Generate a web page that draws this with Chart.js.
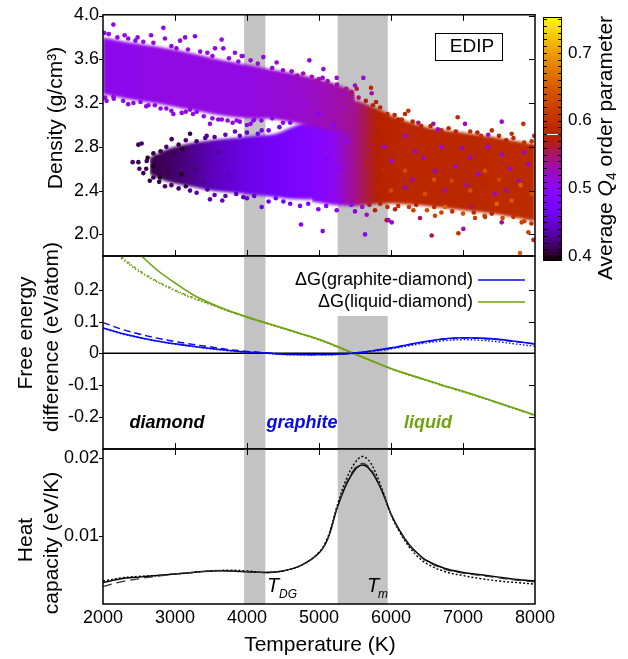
<!DOCTYPE html>
<html>
<head>
<meta charset="utf-8">
<script src="https://cdn.jsdelivr.net/npm/chart.js@4.4.1/dist/chart.umd.min.js"></script>
<style>
  html, body { margin: 0; padding: 0; background: #fff; }
  #wrap { position: relative; width: 628px; height: 659px; }
  #wrap canvas { position: absolute; left: 0; top: 0; }
</style>
</head>
<body>
<div id="wrap">
  <canvas id="cTop" width="628" height="659"></canvas>
  <canvas id="cMid" width="628" height="659"></canvas>
  <canvas id="cBot" width="628" height="659"></canvas>
</div>
<script>
// ---- axes / ticks ----
const tempTicks = [2000, 3000, 4000, 5000, 6000, 7000, 8000];
const densTicks = [2.0, 2.4, 2.8, 3.2, 3.6, 4.0];
const dgTicks = [-0.2, -0.1, 0, 0.1, 0.2];
const cpTicks = [0.01, 0.02];
const q4Ticks = [0.4, 0.5, 0.6, 0.7];
const q4Range = [0.393, 0.753];
const shadeBands = [[3960, 4255], [5260, 5955]];

// ---- density scatter: [T, density, Q4] ----
const diamondPts = [
  [2144,3.917,.51],[2838,3.887,.51],[2020,3.84,.50],[2667,3.82,.51],[2861,3.79,.51],[3070,3.77,.51],
  [3140,3.80,.51],[3278,3.81,.50],[3648,3.78,.51],[3556,3.70,.51],[3671,3.70,.50],[3833,3.66,.51],
  [3940,3.63,.51],[2300,3.82,.51],[2480,3.80,.51],[2144,3.26,.51],[2422,3.20,.51],[2630,3.18,.51],
  [2977,3.10,.50],[3093,3.11,.51],[3301,3.12,.50],[3486,3.01,.51],[3731,3.04,.51],[3856,3.04,.50],
  [3209,3.14,.51],[2050,3.22,.50],[2800,3.15,.51],[3600,3.05,.51],[3926,3.63,.51],[4227,3.62,.51],
  [4412,3.57,.52],[4866,3.59,.52],[5061,3.51,.52],[5051,3.43,.51],[5246,3.43,.52],[5616,3.43,.52],
  [5500,3.36,.52],[5732,3.29,.53],[4100,3.05,.51],[4300,3.10,.51],[4000,3.00,.50],[4700,3.45,.53],
  [4950,3.40,.53],[5150,3.35,.54],
  [2080,3.83,.51],[2200,3.80,.51],[2350,3.79,.51],[2450,3.77,.50],[2560,3.76,.51],[2700,3.75,.51],
  [2950,3.72,.51],[3020,3.70,.51],[3180,3.69,.51],[3350,3.67,.51],[3450,3.66,.51],[3520,3.63,.51],
  [3750,3.61,.51],[3880,3.58,.51],[4050,3.59,.52],[4150,3.56,.52],[4350,3.52,.52],[4500,3.50,.52],
  [4620,3.49,.52],[4780,3.47,.53],[4900,3.44,.53],[5000,3.42,.53],[5120,3.40,.53],[5250,3.37,.53],
  [5380,3.33,.54],[5450,3.30,.55],
  [2030,3.25,.51],[2150,3.24,.51],[2280,3.22,.51],[2350,3.19,.51],[2520,3.21,.51],[2600,3.17,.51],
  [2720,3.18,.51],[2880,3.15,.51],[2950,3.13,.51],[3150,3.12,.51],[3250,3.10,.51],[3400,3.08,.51],
  [3520,3.06,.51],[3650,3.05,.51],[3800,3.02,.51],[3900,3.03,.51],[4050,3.01,.51],[4200,3.04,.51],
  [4350,3.06,.51],[4500,3.02,.51],[4600,3.30,.52],[4800,3.20,.50],[5350,3.15,.52]
];
const graphitePts = [
  [2491,2.82,.41],[2537,2.83,.42],[2412,2.66,.42],[2491,2.66,.41],[2505,2.60,.42],[2607,2.67,.41],
  [2745,2.70,.41],[2792,2.52,.40],[2861,2.44,.42],[2954,2.87,.42],[3209,2.92,.41],[3209,2.40,.43],
  [3486,2.32,.44],[3657,2.31,.44],[3440,2.90,.43],[3833,2.94,.45],[3949,2.34,.44],[3093,2.55,.40],
  [2700,2.62,.40],[2900,2.58,.41],[3000,2.75,.41],[3300,2.60,.42],[3400,2.48,.43],[3600,2.75,.43],
  [3750,2.55,.44],[4088,3.04,.48],[4204,2.95,.46],[4204,2.25,.46],[4505,2.30,.47],[4736,2.26,.48],
  [4991,2.23,.49],[4750,2.09,.48],[5051,2.03,.49],[3100,2.78,.40],[2650,2.49,.41],
  [2700,2.74,.41],[2800,2.76,.41],[2880,2.80,.42],[3050,2.82,.41],[3150,2.86,.42],[3300,2.85,.42],
  [3420,2.88,.43],[3550,2.89,.43],[3700,2.91,.44],[3900,2.90,.45],[4000,2.93,.45],[4150,2.92,.46],
  [4300,2.95,.47],[4450,2.98,.47],[4600,3.02,.48],
  [2700,2.52,.41],[2780,2.48,.41],[2950,2.45,.42],[3050,2.42,.42],[3150,2.44,.41],[3300,2.38,.43],
  [3450,2.41,.43],[3550,2.36,.44],[3700,2.35,.44],[3850,2.37,.44],[4000,2.33,.45],[4100,2.35,.45],
  [4300,2.30,.46],[4400,2.33,.47],[4600,2.28,.47],[4850,2.28,.48],[5100,2.26,.49],
  [2600,2.60,.41],[2620,2.70,.40],[2560,2.56,.41],[5000,3.10,.49],[5200,3.00,.49],[4900,2.90,.48],
  [5100,2.70,.48],[5300,2.60,.49],[5400,2.85,.50]
];
const liquidPts = [
  [5246,2.22,.50],[5500,2.21,.50],[5662,2.18,.52],[5778,2.22,.57],[5940,2.13,.57],[5639,2.00,.50],
  [5722,3.34,.58],[5792,3.21,.57],[5524,3.33,.56],[5755,2.86,.58],[5848,3.01,.58],[5894,2.59,.59],
  [5662,2.64,.57],[5801,2.43,.58],[6241,3.13,.60],[6195,3.10,.58],[6926,3.07,.59],[6380,3.02,.55],
  [6588,3.01,.53],[7028,3.01,.53],[7538,3.03,.52],[7838,3.01,.60],[7676,2.92,.60],[7954,2.85,.60],
  [5963,2.13,.53],[6010,2.11,.51],[6565,1.99,.56],[6936,2.01,.60],[7005,2.05,.53],[6311,2.22,.62],
  [6403,2.15,.55],[6611,2.17,.62],[7306,2.16,.57],[7538,2.11,.53],[7815,2.11,.62],[7908,2.02,.62],
  [7977,1.95,.60],[7792,1.83,.65],[6056,2.23,.57],[6750,2.25,.66],[7167,2.15,.62],[7468,2.28,.66],
  [7120,2.25,.55],[6010,2.67,.51],[6334,2.76,.52],[6611,2.58,.52],[6982,2.79,.53],[7213,2.55,.52],
  [7538,2.73,.52],[7769,2.49,.53],[7908,2.64,.52],[6750,2.40,.53],[6195,2.43,.53],[7445,2.37,.52],
  [6473,2.37,.64],[6843,2.49,.63],[7306,2.58,.64],[7676,2.31,.65],[7954,2.37,.64],[6195,2.58,.63],
  [6700,2.95,.59],[7200,2.93,.58],[7400,2.95,.60],[6100,3.05,.58],[7990,2.90,.59],
  [5350,3.28,.52],[5550,3.25,.55],[5650,3.22,.57],[5750,3.18,.58],[5850,3.16,.58],[5950,3.10,.59],
  [6050,3.09,.58],[6150,3.05,.59],[6300,3.03,.58],[6420,2.99,.59],[6550,2.99,.58],[6650,2.96,.52],
  [6800,2.97,.59],[6900,2.94,.58],[7100,2.94,.59],[7250,2.90,.60],[7350,2.91,.52],[7500,2.90,.59],
  [7600,2.86,.58],[7700,2.88,.59],[7850,2.84,.60],[7950,2.80,.58],
  [5300,2.30,.50],[5450,2.27,.50],[5600,2.25,.51],[5700,2.27,.56],[5850,2.28,.58],[5950,2.25,.59],
  [6100,2.26,.60],[6250,2.25,.62],[6350,2.27,.58],[6500,2.22,.63],[6600,2.25,.59],[6700,2.20,.62],
  [6850,2.21,.60],[7000,2.19,.64],[7150,2.20,.59],[7300,2.17,.62],[7400,2.19,.58],[7550,2.15,.63],
  [7700,2.16,.60],[7850,2.12,.62],[7950,2.10,.60],
  [5900,2.80,.52],[6200,2.90,.52],[6450,2.70,.52],[6700,2.80,.51],[6900,2.62,.52],[7100,2.70,.52],
  [7350,2.80,.51],[7650,2.60,.52],[7850,2.75,.52],[6300,2.50,.53],[7050,2.45,.53],[7600,2.40,.53],
  [6000,2.40,.63],[6600,2.50,.64],[7100,2.40,.64],[7500,2.50,.63],[7800,2.45,.65]
];

// dense cores of the three clouds (upper / lower edge, mean Q4)
const diaT  = [2000, 2400, 2800, 3200, 3600, 4000, 4400, 4800, 5200, 5500];
const diaHi = [3.80, 3.75, 3.71, 3.66, 3.60, 3.55, 3.50, 3.45, 3.38, 3.30];
const diaLo = [3.28, 3.23, 3.19, 3.14, 3.09, 3.06, 3.05, 3.00, 2.95, 2.95];
const diaQ  = [0.505, 0.505, 0.51, 0.51, 0.51, 0.51, 0.515, 0.52, 0.53, 0.54];
const graT  = [2650, 2900, 3200, 3500, 3800, 4100, 4400, 4700, 5000];
const graHi = [2.70, 2.78, 2.83, 2.86, 2.88, 2.90, 2.92, 3.00, 3.05];
const graLo = [2.55, 2.48, 2.44, 2.40, 2.38, 2.36, 2.34, 2.32, 2.32];
const graQ  = [0.41, 0.415, 0.425, 0.44, 0.45, 0.46, 0.47, 0.48, 0.49];
const liqT  = [4900, 5200, 5500, 5800, 6100, 6500, 7000, 7500, 8000];
const liqHi = [3.20, 3.22, 3.22, 3.15, 3.06, 2.98, 2.93, 2.88, 2.82];
const liqLo = [2.30, 2.27, 2.26, 2.28, 2.28, 2.26, 2.22, 2.18, 2.12];
const liqQ  = [0.49, 0.50, 0.54, 0.575, 0.585, 0.585, 0.585, 0.59, 0.59];

// ---- free energy differences (eV/atom) ----
const tMid = [2000,2250,2500,2750,3000,3250,3500,3750,4000,4250,4500,4750,5000,5250,5500,5750,6000,6250,6500,6750,7000,7250,7500,7750,8000];
const dgGraSolid = [.080,.063,.050,.039,.030,.022,.015,.009,.004,.001,-.003,-.004,-.004,-.003,.001,.008,.017,.028,.038,.046,.049,.048,.044,.037,.030];
const dgGraDash  = [.097,.077,.061,.048,.037,.028,.020,.012,.006,.002,-.002,-.004,-.004,-.003,.001,.008,.016,.027,.037,.045,.048,.047,.043,.036,.029];
const dgGraDot   = [.079,.062,.049,.038,.029,.021,.014,.008,.003,0,-.004,-.005,-.005,-.004,0,.006,.014,.024,.033,.040,.043,.041,.036,.029,.022];
const dgLiqSolid = [null,null,.315,.263,.222,.185,.157,.134,.115,.097,.080,.062,.044,.022,-.002,-.025,-.048,-.067,-.085,-.103,-.120,-.138,-.157,-.176,-.195];
const dgLiqDash  = [null,.305,.262,.228,.200,.176,.155,.133,.114,.096,.079,.061,.043,.021,-.003,-.026,-.049,-.068,-.086,-.104,-.121,-.139,-.158,-.177,-.196];
const dgLiqDot   = [null,.300,.258,.225,.197,.173,.153,.132,.113,.095,.078,.060,.042,.020,-.004,-.027,-.050,-.069,-.087,-.105,-.122,-.140,-.159,-.178,-.197];

// ---- heat capacity (eV/K) ----
const tCp = [2000,2250,2500,2750,3000,3250,3500,3750,4000,4250,4500,4750,5000,5125,5250,5375,5500,5600,5700,5800,5900,6000,6125,6250,6375,6500,6750,7000,7250,7500,7750,8000];
const cpSolid = [.0040,.0045,.0047,.0049,.0051,.0053,.0055,.0055,.0054,.0053,.0055,.0062,.0078,.0097,.0135,.0165,.0185,.0191,.0186,.0172,.0152,.0128,.0106,.0089,.0077,.0068,.0058,.0053,.0050,.0047,.0044,.0042];
const cpDot   = [.0042,.0046,.0048,.0049,.0051,.0053,.0055,.0056,.0055,.0053,.0055,.0062,.0079,.0099,.0138,.0172,.0194,.0202,.0196,.0178,.0154,.0127,.0104,.0086,.0073,.0064,.0054,.0049,.0045,.0042,.0040,.0038];
const cpDash  = [.0035,.0041,.0045,.0048,.0051,.0053,.0055,.0055,.0054,.0053,.0055,.0062,.0078,.0097,.0136,.0167,.0187,.0193,.0188,.0173,.0152,.0128,.0105,.0088,.0076,.0067,.0057,.0052,.0049,.0046,.0043,.0041];

const FONT = "'Liberation Sans', Arial, Helvetica, sans-serif";
const BLUE = '#0808f0';
const GREEN = '#6fa20e';

// gnuplot-like palette (black - purple - red - yellow)
function q4Color(q) {
  const x = Math.min(1, Math.max(0, (q - q4Range[0]) / (q4Range[1] - q4Range[0])));
  const r = Math.round(255 * Math.sqrt(x));
  const g = Math.round(255 * x * x * x);
  const b = Math.round(255 * Math.max(0, Math.sin(2 * Math.PI * x)));
  return `rgb(${r},${g},${b})`;
}

function hGradient(chart, ts, qs) {
  const { ctx, chartArea, scales } = chart;
  if (!chartArea) return q4Color(qs[0]);
  const x0 = scales.x.getPixelForValue(ts[0]);
  const x1 = scales.x.getPixelForValue(ts[ts.length - 1]);
  const g = ctx.createLinearGradient(x0, 0, x1, 0);
  ts.forEach((t, i) => g.addColorStop((t - ts[0]) / (ts[ts.length - 1] - ts[0]), q4Color(qs[i])));
  return g;
}

const xy = (xs, ys) => xs.map((x, i) => ({ x, y: ys[i] }));

function vText(ctx, text, x, y, font) {
  ctx.save();
  ctx.translate(x, y);
  ctx.rotate(-Math.PI / 2);
  ctx.font = font;
  ctx.textAlign = 'center';
  ctx.textBaseline = 'middle';
  ctx.fillText(text, 0, 0);
  ctx.restore();
}

// shading, frame and inward ticks
const framePlugin = {
  id: 'frame',
  beforeDatasetsDraw(chart, args, opts) {
    const { ctx, chartArea: a, scales: { x, y } } = chart;
    ctx.save();
    ctx.fillStyle = '#c3c3c3';
    shadeBands.forEach(([t0, t1]) => {
      const x0 = x.getPixelForValue(t0), x1 = x.getPixelForValue(t1);
      ctx.fillRect(x0, a.top, x1 - x0, a.bottom - a.top);
    });
    if (opts.zeroLine) {
      const y0 = y.getPixelForValue(0);
      ctx.strokeStyle = '#000';
      ctx.lineWidth = 1.5;
      ctx.beginPath(); ctx.moveTo(a.left, y0); ctx.lineTo(a.right, y0); ctx.stroke();
    }
    ctx.restore();
  },
  afterDraw(chart, args, opts) {
    const { ctx, chartArea: a, scales: { x, y } } = chart;
    ctx.save();
    ctx.strokeStyle = '#000';
    ctx.lineWidth = 1.5;
    ctx.strokeRect(a.left, a.top, a.right - a.left, a.bottom - a.top);
    ctx.lineWidth = 1;
    ctx.beginPath();
    tempTicks.slice(1, -1).forEach(t => {
      const px = Math.round(x.getPixelForValue(t)) + 0.5;
      if (opts.xTop) { ctx.moveTo(px, a.top); ctx.lineTo(px, a.top + 6); }
      if (opts.xBottom) { ctx.moveTo(px, a.bottom); ctx.lineTo(px, a.bottom - 6); }
    });
    y.ticks.forEach(tk => {
      const py = Math.round(y.getPixelForValue(tk.value)) + 0.5;
      ctx.moveTo(a.left - 4, py); ctx.lineTo(a.left, py);
      if (opts.yRight) { ctx.moveTo(a.right, py); ctx.lineTo(a.right - 6, py); }
    });
    ctx.stroke();
    ctx.restore();
  }
};

function yScale(min, max, ticks, fmt) {
  return {
    type: 'linear', min, max,
    afterFit(s) { s.width = 103; },
    afterBuildTicks(s) { s.ticks = ticks.map(v => ({ value: v })); },
    grid: { display: false, drawTicks: false },
    border: { display: false },
    ticks: { padding: 4, color: '#000', font: { family: FONT, size: 18 }, callback: fmt, autoSkip: false }
  };
}
const hiddenX = { type: 'linear', min: 2000, max: 8000, display: false };

// ---------------- top panel: density ----------------
function pointSet(pts, order) {
  return {
    data: pts.map(p => ({ x: p[0], y: p[1] })),
    showLine: false, pointRadius: 2.3, pointBorderWidth: 0, order,
    pointBackgroundColor: pts.map(p => q4Color(p[2]))
  };
}
function band(ts, hi, lo, qs, idx, order) {
  return [
    { data: xy(ts, hi), borderWidth: 0, borderColor: 'rgba(0,0,0,0)', pointRadius: 0, tension: 0.3, fill: false, order },
    { data: xy(ts, lo), borderWidth: 0, borderColor: 'rgba(0,0,0,0)', pointRadius: 0, tension: 0.3, fill: idx, order,
      backgroundColor: c => hGradient(c.chart, ts, qs) }
  ];
}

const topPlugin = {
  id: 'topDeco',
  // soften the cloud cores; the dots are drawn sharp
  beforeDatasetsDraw(chart) { chart.ctx.filter = 'blur(1.6px)'; },
  beforeDatasetDraw(chart, args) {
    if (args.meta.dataset === undefined || chart.data.datasets[args.index].showLine === false) chart.ctx.filter = 'none';
  },
  afterDatasetsDraw(chart) { chart.ctx.filter = 'none'; },
  afterDraw(chart) {
    const { ctx } = chart;
    ctx.save();
    ctx.fillStyle = '#000';
    vText(ctx, 'Density (g/cm\u00b3)', 56, 118, `21px ${FONT}`);
    // EDIP box
    ctx.fillStyle = '#fff';
    ctx.fillRect(435, 33, 67, 27);
    ctx.strokeStyle = '#000'; ctx.lineWidth = 1;
    ctx.strokeRect(435.5, 33.5, 67, 27);
    ctx.fillStyle = '#000';
    ctx.font = `19px ${FONT}`; ctx.textAlign = 'center'; ctx.textBaseline = 'middle';
    ctx.fillText('EDIP', 472, 47);
    // colour bar
    const cx0 = 543, cx1 = 562, cy0 = 17, cy1 = 261;
    const qy = q => cy1 - (q - q4Range[0]) / (q4Range[1] - q4Range[0]) * (cy1 - cy0);
    const g = ctx.createLinearGradient(0, cy1, 0, cy0);
    for (let i = 0; i <= 40; i++) g.addColorStop(i / 40, q4Color(q4Range[0] + i / 40 * (q4Range[1] - q4Range[0])));
    ctx.fillStyle = g;
    ctx.fillRect(cx0, cy0, cx1 - cx0, cy1 - cy0);
    ctx.fillStyle = '#fff';
    ctx.fillRect(cx0, Math.round(qy(0.5805)), cx1 - cx0, 1);
    ctx.strokeStyle = '#000'; ctx.lineWidth = 1;
    ctx.beginPath();
    for (let k = 40; k <= 75; k++) {
      const py = Math.round(qy(k / 100)) + 0.5;
      ctx.moveTo(cx0, py); ctx.lineTo(cx0 + 4, py);
      ctx.moveTo(cx1, py); ctx.lineTo(cx1 - 4, py);
    }
    ctx.stroke();
    ctx.strokeRect(cx0 + 0.5, cy0 + 0.5, cx1 - cx0 - 1, cy1 - cy0 - 1);
    ctx.fillStyle = '#000';
    ctx.font = `17px ${FONT}`; ctx.textAlign = 'left'; ctx.textBaseline = 'middle';
    q4Ticks.forEach(q => ctx.fillText(q.toFixed(1), 568, qy(q)));
    // colour bar title: Average Q4 order parameter
    ctx.translate(606, 148);
    ctx.rotate(-Math.PI / 2);
    const fN = `21px ${FONT}`, fI = `italic 21px ${FONT}`, fS = `14px ${FONT}`;
    const parts = [['Average ', fN, 0], ['Q', fI, 0], ['4', fS, 6], [' order parameter', fN, 0]];
    let w = 0;
    parts.forEach(p => { ctx.font = p[1]; w += ctx.measureText(p[0]).width; });
    let px = -w / 2;
    ctx.textAlign = 'left'; ctx.textBaseline = 'middle';
    parts.forEach(p => { ctx.font = p[1]; ctx.fillText(p[0], px, p[2]); px += ctx.measureText(p[0]).width; });
    ctx.restore();
  }
};

new Chart(document.getElementById('cTop'), {
  type: 'line',
  data: {
    datasets: [
      ...band(liqT, liqHi, liqLo, liqQ, 0, 30),
      ...band(graT, graHi, graLo, graQ, 2, 20),
      ...band(diaT, diaHi, diaLo, diaQ, 4, 10),
      pointSet(liquidPts, 3),
      pointSet(graphitePts, 2),
      pointSet(diamondPts, 1)
    ]
  },
  options: {
    responsive: false, animation: false,
    layout: { padding: { top: 14, left: 0, right: 93, bottom: 659 - 256 } },
    scales: { x: hiddenX, y: yScale(1.8024, 4.0064, densTicks, v => v.toFixed(1)) },
    plugins: { legend: { display: false }, tooltip: { enabled: false },
      frame: { xTop: true, xBottom: true, yRight: true } }
  },
  plugins: [framePlugin, topPlugin]
});

// ---------------- middle panel: free energy ----------------
const midPlugin = {
  id: 'midDeco',
  afterDatasetsDraw(chart) {
    const { ctx } = chart;
    ctx.save();
    ctx.fillStyle = '#fff';
    ctx.fillRect(272, 257, 262, 59);
    ctx.font = `18px ${FONT}`; ctx.textAlign = 'right'; ctx.textBaseline = 'middle';
    ctx.fillStyle = '#000';
    ctx.fillText('\u0394G(graphite-diamond)', 473, 280);
    ctx.fillText('\u0394G(liquid-diamond)', 473, 302);
    ctx.lineWidth = 1.6;
    ctx.strokeStyle = BLUE;
    ctx.beginPath(); ctx.moveTo(478, 280); ctx.lineTo(525, 280); ctx.stroke();
    ctx.strokeStyle = GREEN;
    ctx.beginPath(); ctx.moveTo(478, 302); ctx.lineTo(525, 302); ctx.stroke();
    ctx.font = `italic bold 18px ${FONT}`; ctx.textAlign = 'center';
    ctx.fillStyle = '#000'; ctx.fillText('diamond', 167, 423);
    ctx.fillStyle = BLUE; ctx.fillText('graphite', 302, 423);
    ctx.fillStyle = GREEN; ctx.fillText('liquid', 428, 423);
    ctx.restore();
  },
  afterDraw(chart) {
    const { ctx } = chart;
    ctx.save();
    ctx.fillStyle = '#000';
    vText(ctx, 'Free energy', 26, 333, `21px ${FONT}`);
    vText(ctx, 'difference (eV/atom)', 52, 337, `21px ${FONT}`);
    ctx.restore();
  }
};

const curve = (ts, ys, color, dash, width) => ({
  data: xy(ts, ys), borderColor: color, borderWidth: width || 1.6, borderDash: dash || [],
  pointRadius: 0, tension: 0.35, fill: false
});

new Chart(document.getElementById('cMid'), {
  type: 'line',
  data: {
    datasets: [
      curve(tMid, dgGraDot, BLUE, [1.5, 2], 1.4),
      curve(tMid, dgGraDash, BLUE, [7, 4], 1.4),
      curve(tMid, dgGraSolid, BLUE),
      curve(tMid, dgLiqDot, GREEN, [1.5, 2], 1.4),
      curve(tMid, dgLiqDash, GREEN, [3, 2, 1, 2], 1.4),
      curve(tMid, dgLiqSolid, GREEN)
    ]
  },
  options: {
    responsive: false, animation: false,
    layout: { padding: { top: 256, left: 0, right: 93, bottom: 659 - 449 } },
    scales: { x: hiddenX, y: yScale(-0.3022, 0.3072, dgTicks, v => v === 0 ? '0' : v.toFixed(1)) },
    plugins: { legend: { display: false }, tooltip: { enabled: false },
      frame: { xTop: false, xBottom: true, yRight: true, zeroLine: true } }
  },
  plugins: [framePlugin, midPlugin]
});

// ---------------- bottom panel: heat capacity ----------------
const botPlugin = {
  id: 'botDeco',
  afterDraw(chart) {
    const { ctx } = chart;
    ctx.save();
    ctx.fillStyle = '#000';
    vText(ctx, 'Heat', 26, 540, `21px ${FONT}`);
    vText(ctx, 'capacity (eV/K)', 52, 543, `21px ${FONT}`);
    ctx.font = `21px ${FONT}`; ctx.textAlign = 'center'; ctx.textBaseline = 'middle';
    ctx.fillText('Temperature (K)', 320, 645);
    ctx.textAlign = 'left'; ctx.textBaseline = 'alphabetic';
    ctx.font = `italic 20px ${FONT}`;
    ctx.fillText('T', 267, 592);
    ctx.fillText('T', 367, 592);
    ctx.font = `italic 12px ${FONT}`;
    ctx.fillText('DG', 279, 598);
    ctx.fillText('m', 378, 598);
    ctx.restore();
  }
};

new Chart(document.getElementById('cBot'), {
  type: 'line',
  data: {
    datasets: [
      curve(tCp, cpDash, '#333', [9, 5], 1.2),
      curve(tCp, cpDot, '#000', [2, 2], 1.4),
      curve(tCp, cpSolid, '#000', [], 1.5)
    ]
  },
  options: {
    responsive: false, animation: false,
    layout: { padding: { top: 449, left: 0, right: 93, bottom: 0 } },
    scales: {
      x: {
        type: 'linear', min: 2000, max: 8000,
        afterFit(s) { s.height = 659 - 604; },
        afterBuildTicks(s) { s.ticks = tempTicks.map(v => ({ value: v })); },
        grid: { display: false, drawTicks: false },
        border: { display: false },
        ticks: { padding: 3, color: '#000', font: { family: FONT, size: 18 }, autoSkip: false, maxRotation: 0,
          callback: v => String(v) }
      },
      y: yScale(0.001248, 0.021158, cpTicks, v => v.toFixed(2))
    },
    plugins: { legend: { display: false }, tooltip: { enabled: false },
      frame: { xTop: true, xBottom: false, yRight: false } }
  },
  plugins: [framePlugin, botPlugin]
});
</script>
</body>
</html>
